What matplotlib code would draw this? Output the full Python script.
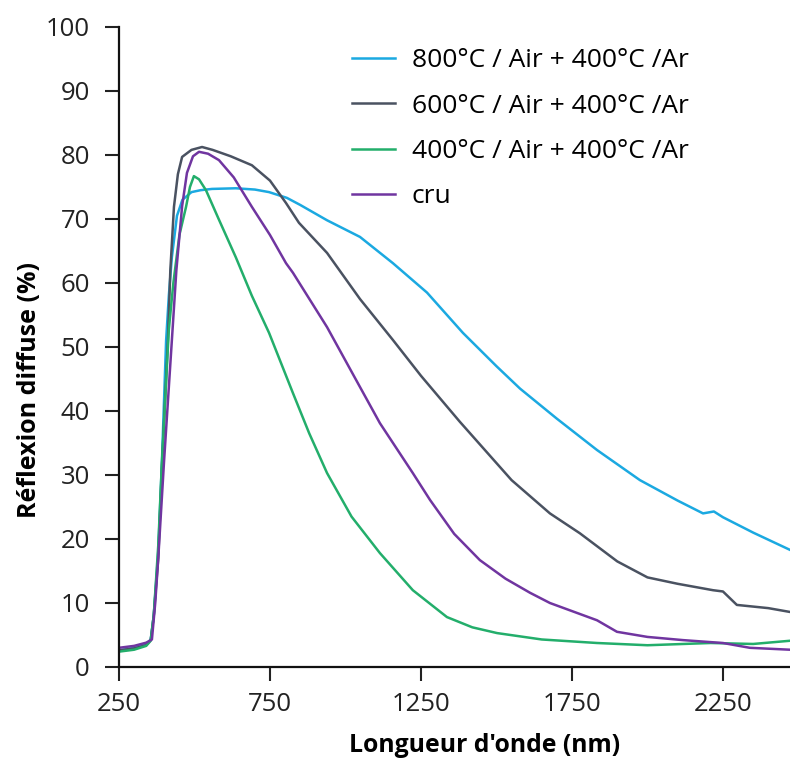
import matplotlib
matplotlib.use("Agg")
import matplotlib.pyplot as plt

# ---- data ----
wl_800 = [250, 300, 340, 355, 365, 380, 392, 406, 415, 425, 442, 460, 490, 520, 558, 637, 700,
          747, 806, 850, 939, 1048, 1157, 1270, 1389, 1500, 1578, 1700, 1833, 1975, 2100, 2184,
          2220, 2250, 2350, 2472]
r_800 = [2.6, 3.0, 3.5, 4.3, 8, 18, 31.9, 51, 58, 64, 70.5, 73.0, 74.2, 74.5, 74.7, 74.8, 74.6,
         74.2, 73.3, 72.2, 69.8, 67.2, 63.1, 58.5, 52.2, 47.0, 43.5, 38.8, 33.9, 29.2, 26.0, 24.0,
         24.3, 23.4, 21.0, 18.3]

wl_600 = [250, 300, 340, 355, 365, 380, 392, 412, 420, 432, 445, 459, 490, 525, 560, 620, 690,
          750, 803, 846, 939, 1048, 1157, 1250, 1379, 1550, 1677, 1776, 1900, 2000, 2100, 2217,
          2250, 2296, 2400, 2472]
r_600 = [2.6, 2.9, 3.4, 4.2, 8, 17, 31, 51.1, 62, 71.9, 77.0, 79.7, 80.8, 81.25, 80.8, 79.8,
         78.4, 76.0, 72.5, 69.4, 64.7, 57.5, 51.1, 45.5, 38.3, 29.2, 24.0, 20.9, 16.5, 14.0, 13.0,
         12.0, 11.8, 9.7, 9.2, 8.6]

wl_400 = [250, 300, 340, 355, 365, 380, 392, 415, 430, 450, 472, 485, 498, 515, 538, 580, 637,
          690, 747, 826, 880, 939, 1020, 1114, 1223, 1336, 1420, 1502, 1650, 1833, 2000, 2209,
          2350, 2472]
r_400 = [2.4, 2.7, 3.3, 4.1, 8, 19, 31.9, 52.7, 60, 67.5, 71.9, 75.0, 76.7, 76.2, 74.5, 70.0,
         64.0, 58.0, 52.2, 42.8, 36.5, 30.3, 23.5, 17.8, 12.0, 7.8, 6.2, 5.3, 4.3, 3.75, 3.4, 3.75,
         3.6, 4.1]

wl_cru = [250, 300, 340, 359, 370, 380, 399, 425, 440, 459, 475, 495, 515, 545, 581, 630, 690,
          750, 803, 826, 939, 1048, 1114, 1223, 1280, 1360, 1445, 1530, 1611, 1677, 1833, 1899,
          2000, 2118, 2250, 2339, 2472]
r_cru = [3.0, 3.3, 3.8, 4.3, 10, 17, 32, 51, 62, 72, 77.2, 79.8, 80.5, 80.2, 79.2, 76.5, 71.9,
         67.5, 63.1, 61.6, 53.1, 43.75, 38.1, 30.3, 26.1, 20.8, 16.7, 13.8, 11.6, 10.0, 7.3, 5.5,
         4.7, 4.2, 3.75, 3.0, 2.7]

labels = ["800°C / Air + 400°C /Ar", "600°C / Air + 400°C /Ar",
          "400°C / Air + 400°C /Ar", "cru"]
colors = ["#1BA9E1", "#4A5261", "#23AE6B", "#7035A0"]
x_ticks = [250, 750, 1250, 1750, 2250]
y_ticks = [0, 10, 20, 30, 40, 50, 60, 70, 80, 90, 100]

plt.rcParams['font.family'] = ['Open Sans', 'DejaVu Sans']

fig = plt.figure(figsize=(7.9, 7.6), dpi=100)
ax = fig.add_axes([119 / 790, 93 / 760, 671 / 790, 640 / 760])

series = [(wl_800, r_800), (wl_600, r_600), (wl_400, r_400), (wl_cru, r_cru)]
for (x, y), lab, c in zip(series, labels, colors):
    ax.plot(x, y, color=c, lw=1.8, label=lab)

ax.set_xlim(250, 2472)
ax.set_ylim(0, 100)
ax.set_xticks(x_ticks)
ax.set_yticks(y_ticks)
ax.tick_params(axis='both', direction='out', length=10, width=1.5, labelsize=18.5,
               colors='#222222')
ax.tick_params(axis='y', pad=11)
ax.tick_params(axis='x', pad=8)
for s in ['top', 'right']:
    ax.spines[s].set_visible(False)
for s in ['left', 'bottom']:
    ax.spines[s].set_linewidth(1.6)
    ax.spines[s].set_color('#111111')

ax.set_xlabel("Longueur d'onde (nm)", fontsize=17.8, fontweight='bold')
ax.set_ylabel("Réflexion diffuse (%)", fontsize=18, fontweight='bold')
ax.xaxis.set_label_coords(0.545, -0.103)
ax.yaxis.set_label_coords(-0.115, 0.433)

leg = ax.legend(loc='upper left', bbox_to_anchor=(0.3125, 1.004), frameon=False, fontsize=19,
                handlelength=1.6, handletextpad=0.65, labelspacing=0.77)

fig.savefig("out.png", dpi=100)
